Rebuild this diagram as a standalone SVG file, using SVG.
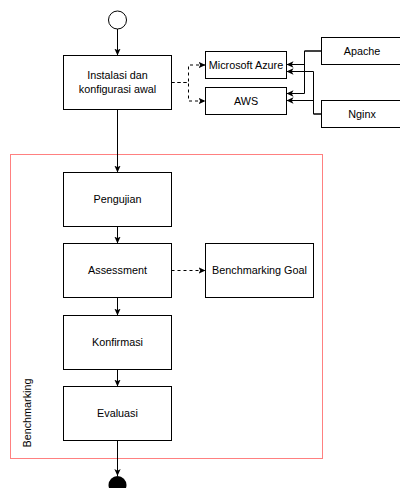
<svg xmlns="http://www.w3.org/2000/svg" width="400" height="488" viewBox="0 0 400 488">
<style>
.box{fill:#fff;stroke:#000;stroke-width:1}
.lbl{font-family:"Liberation Sans",Arial,Helvetica,sans-serif;font-size:10.8px;fill:#000;text-anchor:middle}
.e{fill:none;stroke:#000;stroke-width:1;marker-end:url(#arr)}
.d{stroke-dasharray:3 3}
</style>
<defs>
<marker id="arr" viewBox="0 0 10 10" refX="10" refY="5" markerWidth="7" markerHeight="7" markerUnits="userSpaceOnUse" orient="auto">
<path d="M0,0.5 L10,5 L0,9.5 L2.5,5 Z" fill="#000"/>
</marker>
</defs>
<rect id="container" x="10.5" y="154.5" width="312" height="304" fill="none" stroke="#ff8080"/>
<text class="lbl" transform="translate(31,413) rotate(-90)">Benchmarking</text>
<g id="edges">
<path class="e" d="M117.5,29 V55.5"/>
<path class="e" d="M117.5,109.5 V172.5"/>
<path class="e" d="M117.5,226.5 V243.5"/>
<path class="e" d="M117.5,297.5 V315.5"/>
<path class="e" d="M117.5,369.5 V386.5"/>
<path class="e" d="M117.5,440.5 V476"/>
<path class="e d" d="M171.5,82.5 H188.5 V65 H205.5"/>
<path class="e d" d="M171.5,82.5 H188.5 V101 H205.5"/>
<path class="e d" d="M171.5,270.5 H205.5"/>
<path class="e" d="M321.5,51 H304.5 V64.5 H286.5"/>
<path class="e" d="M321.5,51 H304.5 V93.5 H286.5"/>
<path class="e" d="M321.5,114 H313.5 V71.5 H286.5"/>
<path class="e" d="M321.5,114 H313.5 V100.5 H286.5"/>
</g>
<g id="start"><circle cx="117.5" cy="20" r="9" fill="#fff" stroke="#000"/></g>
<g id="end"><circle cx="117.5" cy="485" r="9" fill="#000"/></g>
<g id="instalasi"><rect class="box" x="63.5" y="55.5" width="108" height="54"/><text class="lbl" x="117.5" y="79">Instalasi dan</text><text class="lbl" x="117.5" y="92.5">konfigurasi awal</text></g>
<g id="azure"><rect class="box" x="205.5" y="51.5" width="81" height="27"/><text class="lbl" x="246" y="68.8">Microsoft Azure</text></g>
<g id="aws"><rect class="box" x="205.5" y="87.5" width="81" height="27"/><text class="lbl" x="246" y="104.8">AWS</text></g>
<g id="apache"><rect class="box" x="321.5" y="37.5" width="81" height="27"/><text class="lbl" x="362" y="54.8">Apache</text></g>
<g id="nginx"><rect class="box" x="321.5" y="100.5" width="81" height="27"/><text class="lbl" x="362" y="117.8">Nginx</text></g>
<g id="pengujian"><rect class="box" x="63.5" y="172.5" width="108" height="54"/><text class="lbl" x="117.5" y="203.3">Pengujian</text></g>
<g id="assessment"><rect class="box" x="63.5" y="243.5" width="108" height="54"/><text class="lbl" x="117.5" y="274.3">Assessment</text></g>
<g id="goal"><rect class="box" x="205.5" y="243.5" width="108" height="54"/><text class="lbl" x="259.5" y="274.3">Benchmarking Goal</text></g>
<g id="konfirmasi"><rect class="box" x="63.5" y="315.5" width="108" height="54"/><text class="lbl" x="117.5" y="346.3">Konfirmasi</text></g>
<g id="evaluasi"><rect class="box" x="63.5" y="386.5" width="108" height="54"/><text class="lbl" x="117.5" y="417.3">Evaluasi</text></g>
</svg>
